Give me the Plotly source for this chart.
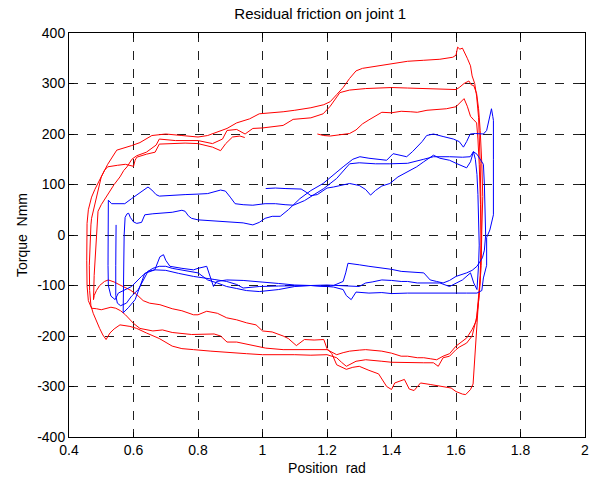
import plotly.graph_objects as go

# ---------------- RED loops ----------------
red_uc_x = [1.17,1.19,1.21,1.24,1.27,1.29,1.31,1.33,1.35,1.37,1.40,1.43,1.46,1.48,1.51,1.54,1.57,1.60,1.612,1.625,1.635,1.645,1.655,1.664]
red_uc_y = [200,197,196,198,201,208,220,228,236,243,242,245,244,243,247,248,250,254,262,270,255,235,228,222]

red_r1_x = [1.668,1.672,1.676,1.678,1.676,1.674,1.668,1.662,1.656,1.653]
red_r1_y = [190,140,60,-20,-60,-95,-148,-200,-250,-295]

red_llow_x = [1.645,1.63,1.62,1.60,1.585,1.55,1.52,1.49,1.47,1.455,1.44,1.41,1.40,1.385,1.36,1.33,1.30,1.28,1.26,1.23,1.215,1.2,1.19,1.16,1.13,1.105,1.08,1.064,1.03,1.0,0.98,0.951,0.92,0.889,0.86,0.827,0.8,0.786,0.75,0.72,0.682,0.65,0.63,0.61,0.59,0.558,0.54,0.522,0.51,0.495,0.485,0.478]
red_llow_y = [-306,-316,-315,-310,-303,-300,-296,-293,-308,-305,-286,-293,-306,-300,-275,-268,-260,-262,-266,-257,-235,-225,-207,-208,-207,-219,-205,-200,-192,-190,-178,-174,-168,-164,-155,-151,-158,-158,-150,-146,-138,-135,-130,-118,-109,-99,-93,-89,-92,-100,-110,-120]

red_l1_x = [0.476,0.478,0.482,0.486]
red_l1_y = [-128,-80,-30,20]

red_ub_x = [0.49,0.50,0.52,0.54,0.558,0.57,0.58,0.595,0.61,0.64,0.67,0.68,0.73,0.8,0.845,0.876,0.89,0.92,0.946,0.97,1.0,1.03,1.064,1.095,1.12,1.15,1.188,1.21,1.24,1.27,1.32,1.36,1.4,1.45,1.5,1.55,1.6,1.61,1.625,1.64,1.648,1.655,1.664,1.67]
red_ub_y = [47,60,80,100,115,128,135,150,157,164,178,190,187,187,181,190,207,209,200,211,212,214,217,229,230,232,240,255,282,287,290,291,292,291,290,289,288,292,300,305,297,296,280,250]

red_r2_x = [1.675,1.68,1.683,1.68,1.678,1.672,1.665]
red_r2_y = [207,141,76,10,-60,-120,-160]

red_lmid_x = [1.65,1.633,1.61,1.6,1.58,1.56,1.545,1.53,1.5,1.48,1.45,1.43,1.4,1.37,1.34,1.32,1.29,1.26,1.245,1.23,1.2,1.15,1.1,1.064,1.03,1.0,0.95,0.889,0.84,0.786,0.75,0.72,0.68,0.64,0.61,0.589,0.57,0.558,0.54,0.527,0.515,0.505,0.495,0.485,0.475,0.468]
red_lmid_y = [-200,-214,-222,-227,-240,-243,-260,-253,-253,-253,-252,-253,-252,-250,-248,-247,-250,-260,-252,-243,-237,-238,-237,-237,-236,-237,-235,-233,-230,-227,-225,-220,-205,-194,-185,-181,-180,-178,-186,-194,-207,-198,-185,-170,-155,-140]

red_l2_x = [0.464,0.463,0.465,0.468]
red_l2_y = [-110,-60,-10,20]

red_ua_x = [0.47,0.48,0.49,0.5,0.52,0.548,0.594,0.62,0.657,0.7,0.75,0.8,0.83,0.86,0.89,0.92,0.96,0.99,1.03,1.064,1.1,1.15,1.19,1.21,1.23,1.25,1.27,1.29,1.31,1.35,1.4,1.45,1.5,1.55,1.59,1.6,1.605,1.612,1.62,1.627,1.635,1.645,1.65,1.658,1.664,1.67,1.673,1.675,1.677,1.678,1.676,1.67,1.663]
red_ua_y = [33,60,90,115,140,168,177,183,197,200,197,194,197,204,211,222,230,240,242,244,247,252,258,264,278,292,310,325,330,334,340,344,346,348,352,356,372,368,370,362,350,335,315,300,275,233,188,141,76,0,-80,-130,-170]

red_lup_x = [1.65,1.633,1.6,1.58,1.56,1.54,1.52,1.5,1.48,1.45,1.43,1.4,1.37,1.34,1.32,1.3,1.27,1.25,1.23,1.2,1.17,1.1,1.064,1.01,0.98,0.95,0.92,0.89,0.87,0.85,0.8,0.78,0.72,0.69,0.66,0.62,0.6,0.59,0.575,0.56,0.545,0.53,0.515,0.5,0.485,0.47,0.46,0.456]
red_lup_y = [-187,-204,-220,-235,-240,-247,-245,-243,-243,-240,-240,-234,-230,-228,-227,-228,-230,-233,-237,-227,-227,-227,-227,-224,-220,-215,-212,-212,-200,-196,-197,-197,-193,-188,-190,-185,-175,-168,-158,-150,-145,-143,-146,-148,-146,-145,-130,-100]

red_p_x = [0.455,0.455,0.456,0.46,0.47,0.48,0.49,0.5,0.51,0.52,0.535,0.55,0.575,0.6,0.605,0.61,0.64,0.667,0.68,0.72,0.76,0.8,0.845,0.87,0.886,0.907,0.93,0.945]
red_p_y = [-50,0,23,50,75,90,102,115,128,135,137,138,140,136,148,154,160,164,180,181,182,181,174,167,181,194,196,193]

# ---------------- BLUE loops ----------------
blue_uc_x = [1.01,1.04,1.07,1.1,1.12,1.135,1.15,1.17,1.2,1.22,1.25,1.27,1.3,1.32,1.335,1.35,1.37,1.395,1.42,1.45,1.478,1.5,1.53,1.55,1.58,1.6,1.62,1.633,1.645,1.654,1.66,1.665]
blue_uc_y = [92,93,92,92,91,85,78,80,93,95,100,102,98,90,79,88,97,102,115,125,135,145,158,152,148,142,136,133,145,165,150,120]

blue_r1_x = [1.668,1.67,1.672,1.67,1.668]
blue_r1_y = [80,30,-20,-60,-95]

blue_l3_x = [1.665,1.655,1.645,1.62,1.6,1.58,1.55,1.53,1.5,1.48,1.45,1.43,1.4,1.37,1.34,1.32,1.3,1.25,1.2,1.15,1.1,1.05,0.99,0.96,0.94,0.92,0.889,0.85,0.786,0.74,0.7,0.666,0.645,0.625,0.594,0.553,0.543,0.53,0.522]
blue_l3_y = [-108,-95,-75,-89,-95,-102,-95,-95,-96,-95,-92,-92,-90,-89,-93,-95,-102,-100,-99,-100,-100,-101,-102,-104,-105,-98,-92,-88,-82,-76,-70,-69,-72,-82,-102,-115,-128,-121,-100]

blue_b1_x = [0.521,0.521,0.522,0.522,0.532,0.55,0.573,0.594,0.615,0.635,0.645,0.657,0.67,0.68,0.72,0.76,0.8,0.83,0.87,0.885,0.9,0.915,0.94,0.97,1.008,1.04,1.07,1.096,1.13,1.16,1.19,1.23,1.27,1.3,1.35,1.395,1.45,1.5,1.53,1.58,1.62,1.644,1.654,1.665,1.675,1.685]
blue_b1_y = [-60,-10,30,69,62,62,62,72,82,92,95,89,80,77,79,80,81,82,89,87,75,62,60,59,62,62,60,59,68,80,92,112,141,143,141,141,142,150,155,155,154,155,165,160,150,140]

blue_r2_x = [1.688,1.69,1.692,1.688,1.682]
blue_r2_y = [100,50,0,-30,-45]

blue_l1_x = [1.665,1.65,1.633,1.6,1.58,1.56,1.54,1.52,1.5,1.47,1.43,1.4,1.37,1.33,1.3,1.28,1.265,1.258,1.25,1.22,1.2,1.15,1.1,1.05,0.99,0.94,0.889,0.858,0.848,0.84,0.827,0.8,0.786,0.75,0.713,0.7,0.693,0.682,0.666,0.635,0.62,0.605,0.584,0.568]
blue_l1_y = [-62,-70,-75,-82,-90,-95,-92,-89,-75,-74,-72,-68,-66,-62,-59,-57,-56,-75,-92,-100,-102,-100,-99,-96,-92,-90,-89,-92,-102,-85,-62,-66,-69,-66,-62,-50,-39,-43,-69,-76,-102,-128,-144,-154]

blue_b2_x = [0.569,0.57,0.571,0.574,0.58,0.585,0.59,0.6,0.61,0.625,0.635,0.66,0.68,0.72,0.75,0.76,0.77,0.78,0.8,0.85,0.9,0.94,0.97,0.99,1.008,1.03,1.055,1.08,1.116,1.15,1.188,1.22,1.25,1.28,1.302,1.33,1.36,1.385,1.405,1.425,1.447,1.465,1.478,1.495,1.509,1.53,1.56,1.592,1.61,1.623,1.633,1.644,1.66,1.685,1.695,1.705,1.71,1.714,1.716]
blue_b2_y = [-100,-40,0,35,42,43,35,26,23,25,40,42,43,45,49,47,38,33,30,28,27,24,20,25,33,37,37,50,72,88,102,120,135,150,155,152,150,148,161,158,155,165,174,185,197,200,195,190,185,174,185,200,201,200,207,235,250,235,227]

blue_r3_x = [1.716,1.716,1.705,1.695,1.695,1.685,1.68]
blue_r3_y = [150,40,10,-5,-60,-85,-110]

blue_l2_x = [1.665,1.633,1.6,1.55,1.5,1.45,1.4,1.37,1.33,1.3,1.29,1.275,1.26,1.25,1.22,1.2,1.15,1.1,1.05,0.99,0.95,0.92,0.889,0.86,0.83,0.8,0.78,0.75,0.72,0.7,0.68,0.66,0.645,0.615,0.594,0.578,0.56,0.55,0.545,0.545,0.545,0.546]
blue_l2_y = [-115,-115,-115,-114,-114,-115,-116,-114,-115,-114,-113,-128,-120,-108,-103,-102,-100,-102,-108,-112,-110,-106,-102,-95,-89,-75,-73,-70,-66,-62,-62,-66,-72,-108,-121,-135,-140,-135,-120,-60,0,20]

x_ticks = [0.4, 0.6, 0.8, 1.0, 1.2, 1.4, 1.6, 1.8, 2.0]
x_tick_text = ["0.4", "0.6", "0.8", "1", "1.2", "1.4", "1.6", "1.8", "2"]
y_ticks = [-400, -300, -200, -100, 0, 100, 200, 300, 400]
y_tick_text = ["-400", "-300", "-200", "-100", "0", "100", "200", "300", "400"]

red_x = (red_uc_x + red_r1_x + red_llow_x + red_l1_x + red_ub_x + red_r2_x +
         red_lmid_x + red_l2_x + red_ua_x + red_lup_x + red_p_x)
red_y = (red_uc_y + red_r1_y + red_llow_y + red_l1_y + red_ub_y + red_r2_y +
         red_lmid_y + red_l2_y + red_ua_y + red_lup_y + red_p_y)
blue_x = (blue_uc_x + blue_r1_x + blue_l3_x + blue_b1_x + blue_r2_x + blue_l1_x +
          blue_b2_x + blue_r3_x + blue_l2_x)
blue_y = (blue_uc_y + blue_r1_y + blue_l3_y + blue_b1_y + blue_r2_y + blue_l1_y +
          blue_b2_y + blue_r3_y + blue_l2_y)

FONT = "Liberation Sans, Arial, sans-serif"

fig = go.Figure()
fig.add_trace(go.Scatter(x=red_x, y=red_y, mode="lines",
                         line=dict(color="#ff0000", width=1)))
fig.add_trace(go.Scatter(x=blue_x, y=blue_y, mode="lines",
                         line=dict(color="#0000ff", width=1)))

axis_common = dict(showline=True, linecolor="black", linewidth=1, mirror="ticks",
                   ticks="inside", ticklen=5, tickcolor="black",
                   showgrid=True, gridcolor="#202020", griddash="dash", gridwidth=1,
                   zeroline=False, automargin=False,
                   tickfont=dict(family=FONT, size=14, color="black"))

fig.update_xaxes(range=[0.4, 2.0], tickvals=x_ticks, ticktext=x_tick_text,
                 title=dict(text="Position  rad", font=dict(family=FONT, size=14, color="black"), standoff=6),
                 **axis_common)
fig.update_yaxes(range=[-400, 400], tickvals=y_ticks, ticktext=y_tick_text,
                 title=dict(text="Torque  Nmm", font=dict(family=FONT, size=14, color="black"), standoff=6),
                 **axis_common)

fig.update_layout(width=593, height=485,
                  margin=dict(l=69, r=8, t=33, b=48, autoexpand=False),
                  plot_bgcolor="white", paper_bgcolor="white",
                  showlegend=False,
                  title=dict(text="Residual friction on joint 1", x=0.540, xanchor="center",
                             y=1 - 14 / 485, yanchor="middle",
                             font=dict(family=FONT, size=15, color="black")))

fig.write_html("out.html", config={"displayModeBar": False},
               post_script="document.body.style.margin='0';document.body.style.overflow='hidden';")
